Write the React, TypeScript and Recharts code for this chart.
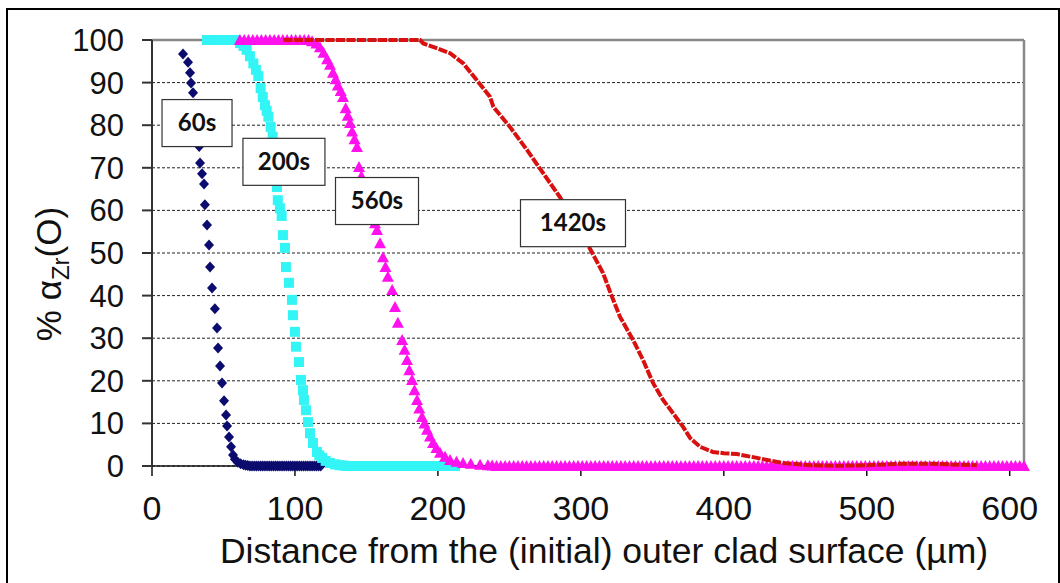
import { ScatterChart, Scatter, XAxis, YAxis, CartesianGrid, ReferenceLine, ReferenceDot } from 'recharts';

// 60s profile (navy diamonds)
const s60x = [
  21.7, 25.2, 26.6, 27.3, 28.7, 29.8, 30.7, 31.5, 32.3, 33,
  33.6, 35, 36.4, 37, 38.5, 39.9, 40.6, 42, 44, 45.5,
  46.2, 47.6, 49, 50.4, 51.8, 52.5, 53.9, 55.3, 56.7, 58,
  60, 62, 64, 65.5, 67, 68.5, 70, 71.5, 73, 74.5,
  76, 77.5, 79, 80.5, 82, 83.5, 85, 86.5, 88, 89.5,
  91, 92.5, 94, 95.5, 97, 98.5, 100, 101.5, 103, 104.5,
  106, 107.5, 109, 110.5, 112, 113.5, 115, 116.5, 118,
];
const s60y = [
  96.7, 94.8, 92.3, 89.9, 87.6, 85, 82.5, 80, 77.5, 75,
  71.1, 68.6, 66.2, 61.3, 56.6, 51.9, 46.7, 41.8, 36.9, 32.4,
  27.7, 23.5, 19.5, 15.3, 12, 9.4, 6.8, 4.5, 2.6, 1.6,
  0.9, 0.5, 0.3, 0.2, 0.1, 0, 0, 0, 0, 0,
  0, 0, 0, 0, 0, 0, 0, 0, 0, 0,
  0, 0, 0, 0, 0, 0, 0, 0, 0, 0,
  0, 0, 0, 0, 0, 0, 0, 0, 0,
];

// 200s profile (cyan squares)
const s200x = [
  38.5, 41, 43.5, 46, 48.5, 51, 53.5, 56, 58.5, 61.6,
  64, 66.2, 68.5, 70.9, 72.7, 74.4, 76, 77.5, 79, 80.2,
  81.4, 83, 84.4, 85.3, 86, 86.8, 87.4, 88, 89.5, 90.7,
  91.6, 93, 93.7, 95.8, 97.9, 98.6, 100, 100.7, 102.8, 104.2,
  105.6, 106.3, 107.7, 109.1, 110.5, 112.6, 115.4, 117, 119, 121.5,
  124.5, 128, 131, 134, 136, 138, 140, 142, 144, 146,
  148, 150, 152, 154, 156, 158, 160, 162, 164, 166,
  168, 170, 172, 174, 176, 178, 180, 182, 184, 186,
  188, 190, 192, 194, 196, 198, 200, 202, 204, 206,
  208, 210, 212,
];
const s200y = [
  100, 100, 100, 100, 100, 100, 100, 100, 100, 99.3,
  98.6, 97.7, 96.2, 94.5, 93, 91.5, 88.7, 86.6, 84.7, 83.4,
  82, 79.6, 77.3, 74.5, 71.5, 68.5, 65.5, 62.4, 60.5, 58.7,
  54.2, 51.2, 46.7, 43, 39, 35.4, 31.5, 28, 24.4, 20.2,
  17.8, 15.5, 13.1, 10.3, 7.7, 5.4, 3.3, 2.5, 1.9, 1.2,
  0.7, 0.4, 0.2, 0.1, 0, 0, 0, 0, 0, 0,
  0, 0, 0, 0, 0, 0, 0, 0, 0, 0,
  0, 0, 0, 0, 0, 0, 0, 0, 0, 0,
  0, 0, 0, 0, 0, 0, 0, 0, 0, 0,
  0, 0, 0,
];

// 560s profile (magenta triangles)
const s560x = [
  61.5, 64.5, 67.5, 70.5, 73.5, 76.5, 79.5, 82.5, 85.5, 88.5,
  91.5, 94.5, 97.5, 100.5, 103.5, 106.5, 109.5, 112, 115, 117.5,
  120, 122.5, 124.5, 126.6, 128.5, 130, 132, 133.6, 135.5, 137,
  138.5, 140, 141.7, 143.4, 144.8, 146.5, 148.5, 150.5, 152.5, 154.5,
  156, 157.4, 159.5, 161.6, 163.3, 165, 168, 170, 172, 175,
  176.7, 178.4, 180, 181.9, 183.6, 185.4, 187, 188.9, 190.6, 192.4,
  194.5, 196.6, 199, 201.5, 205, 208.5, 213, 217.6, 223, 229.5,
  235, 238, 241, 244, 247, 250, 253, 256, 259, 262,
  265, 268, 271, 274, 277, 280, 283, 286, 289, 292,
  295, 298, 301, 304, 307, 310, 313, 316, 319, 322,
  325, 328, 331, 334, 337, 340, 343, 346, 349, 352,
  355, 358, 361, 364, 367, 370, 373, 376, 379, 382,
  385, 388, 391, 394, 397, 400, 403, 406, 409, 412,
  415, 418, 421, 424, 427, 430, 433, 436, 439, 442,
  445, 448, 451, 454, 457, 460, 463, 466, 469, 472,
  475, 478, 481, 484, 487, 490, 493, 496, 499, 502,
  505, 508, 511, 514, 517, 520, 523, 526, 529, 532,
  535, 538, 541, 544, 547, 550, 553, 556, 559, 562,
  565, 568, 571, 574, 577, 580, 583, 586, 589, 592,
  595, 598, 601, 604, 607, 610,
];
const s560y = [
  100, 100, 100, 100, 100, 100, 100, 100, 100, 100,
  100, 100, 100, 100, 100, 100, 100, 99.7, 99.2, 98.3,
  97, 95.5, 94.2, 92.3, 90.8, 89.3, 88, 86.6, 84, 82.2,
  80.5, 78.5, 76.7, 74.9, 70.2, 68, 65.5, 63, 61, 59,
  57, 55.4, 52.3, 49, 46.7, 44.4, 41.3, 37.3, 33.6, 29.6,
  27.3, 24.9, 22.5, 20.2, 17.8, 15.5, 13.5, 11.5, 10, 8.5,
  6.9, 5.4, 4.2, 3.1, 2.2, 1.4, 1, 0.7, 0.5, 0.3,
  0.2, 0.1, 0, 0, 0, 0, 0, 0, 0, 0,
  0, 0, 0, 0, 0, 0, 0, 0, 0, 0,
  0, 0, 0, 0, 0, 0, 0, 0, 0, 0,
  0, 0, 0, 0, 0, 0, 0, 0, 0, 0,
  0, 0, 0, 0, 0, 0, 0, 0, 0, 0,
  0, 0, 0, 0, 0, 0, 0, 0, 0, 0,
  0, 0, 0, 0, 0, 0, 0, 0, 0, 0,
  0, 0, 0, 0, 0, 0, 0, 0, 0, 0,
  0, 0, 0, 0, 0, 0, 0, 0, 0, 0,
  0, 0, 0, 0, 0, 0, 0, 0, 0, 0,
  0, 0, 0, 0, 0, 0, 0, 0, 0, 0,
  0, 0, 0, 0, 0, 0, 0, 0, 0, 0,
  0, 0, 0, 0, 0, 0,
];

// 1420s profile (red)
const s1420x = [92, 120, 150, 180, 187.5, 189.8, 200, 208.5, 217.8, 227.1, 236.4, 238.8, 250.4, 262.3, 273.5, 285.4, 296, 306.4, 315.5, 321.8, 327.4, 336.5, 343.5, 350.5, 357.5, 364.5, 371.5, 376.4, 383.4, 392.4, 400, 409.2, 423.2, 441.4, 460.3, 479, 500, 523, 546, 577];
const s1420y = [100, 100, 100, 100, 100, 99.2, 98, 96.9, 94.5, 90.6, 86.7, 84.3, 79.6, 74.2, 68.8, 63.1, 57, 51, 45.3, 39.7, 35, 29.6, 24.9, 19.5, 15.5, 12.4, 9.2, 6.6, 4.5, 3.3, 3, 2.8, 1.9, 0.7, 0.2, 0.05, 0.2, 0.5, 0.5, 0.2];

const xTicks = [0, 100, 200, 300, 400, 500, 600];
const yTicks = [0, 10, 20, 30, 40, 50, 60, 70, 80, 90, 100];

const seriesLabels = [
  { text: '60s', x: 31.5, y: 80.5, w: 70 },
  { text: '200s', x: 92.3, y: 71.4, w: 82 },
  { text: '560s', x: 157.4, y: 62.2, w: 83 },
  { text: '1420s', x: 294.5, y: 57, w: 105 },
];

const toPoints = (xs: number[], ys: number[]) => xs.map((x, i) => ({ x, y: ys[i] }));

const Diamond = (p: any) => (
  <polygon points={`${p.cx},${p.cy - 5.5} ${p.cx + 5},${p.cy} ${p.cx},${p.cy + 5.5} ${p.cx - 5},${p.cy}`} fill="#0c0c6e" />
);
const Square = (p: any) => <rect x={p.cx - 5} y={p.cy - 5} width={10} height={10} fill="#33f5f5" />;
const Triangle = (p: any) => (
  <polygon points={`${p.cx},${p.cy - 6} ${p.cx + 6},${p.cy + 5} ${p.cx - 6},${p.cy + 5}`} fill="#ff11ee" />
);
const NoDot = () => <g />;

const LabelBox = (w: number, text: string) => (p: any) => (
  <g>
    <rect x={p.cx - w / 2} y={p.cy - 23.5} width={w} height={47} fill="#fff" stroke="#333" strokeWidth={1.2} />
    <text x={p.cx} y={p.cy + 8} textAnchor="middle" fontFamily="Lato" fontWeight="bold" fontSize={24} fill="#111">{text}</text>
  </g>
);

const YTitle = () => (
  <text transform="translate(61,274) rotate(-90)" textAnchor="middle" fontSize={35} fill="#111" fontFamily="Liberation Sans">
    % α<tspan fontSize={24} dy={8}>Zr</tspan><tspan dy={-8}>(O)</tspan>
  </text>
);

const XTitle = () => (
  <text x={604} y={563} textAnchor="middle" fontSize={35.5} fill="#111" fontFamily="Liberation Sans">
    Distance from the (initial) outer clad surface (µm)
  </text>
);

export default function App() {
  return (
    <div style={{ position: 'absolute', left: 0, top: 0, width: 1060, height: 583, background: '#fff', overflow: 'hidden', fontFamily: 'Liberation Sans, Arial, sans-serif' }}>
      <div style={{ position: 'absolute', left: 6, top: 8, width: 1050, height: 600, border: '2px solid #000' }} />
      <div style={{ position: 'absolute', left: 0, top: 0 }}>
        <ScatterChart width={1060} height={583} margin={{ top: 40, right: 36, bottom: 17, left: 72 }}>
          <CartesianGrid horizontal vertical={false} stroke="#222" strokeDasharray="3 2" />
          <XAxis
            type="number"
            dataKey="x"
            domain={[0, 610]}
            ticks={xTicks}
            height={100}
            tickSize={10}
            tickMargin={20}
            tick={{ fontSize: 34, fill: '#111' }}
            stroke="#111"
            strokeWidth={1.5}
            label={{ content: XTitle }}
          />
          <YAxis
            type="number"
            dataKey="y"
            domain={[0, 100]}
            ticks={yTicks}
            width={80}
            tickSize={10}
            tickMargin={18}
            tick={{ fontSize: 31, fill: '#111' }}
            stroke="#333"
            strokeWidth={2}
            label={{ content: YTitle }}
          />
          <ReferenceLine y={100} stroke="#888" strokeWidth={2.5} />
          <ReferenceLine x={610} stroke="#888" strokeWidth={2.5} />
          <Scatter data={toPoints(s60x, s60y)} shape={Diamond} isAnimationActive={false} />
          <Scatter data={toPoints(s200x, s200y)} shape={Square} isAnimationActive={false} />
          <Scatter data={toPoints(s560x, s560y)} shape={Triangle} isAnimationActive={false} />
          <Scatter
            data={toPoints(s1420x, s1420y)}
            shape={NoDot}
            fill="#dd1111"
            line={{ stroke: '#d81010', strokeWidth: 4, strokeDasharray: '9 1.5' }}
            isAnimationActive={false}
          />
          {seriesLabels.map((l) => (
            <ReferenceDot key={l.text} x={l.x} y={l.y} shape={LabelBox(l.w, l.text)} />
          ))}
        </ScatterChart>
      </div>
    </div>
  );
}
